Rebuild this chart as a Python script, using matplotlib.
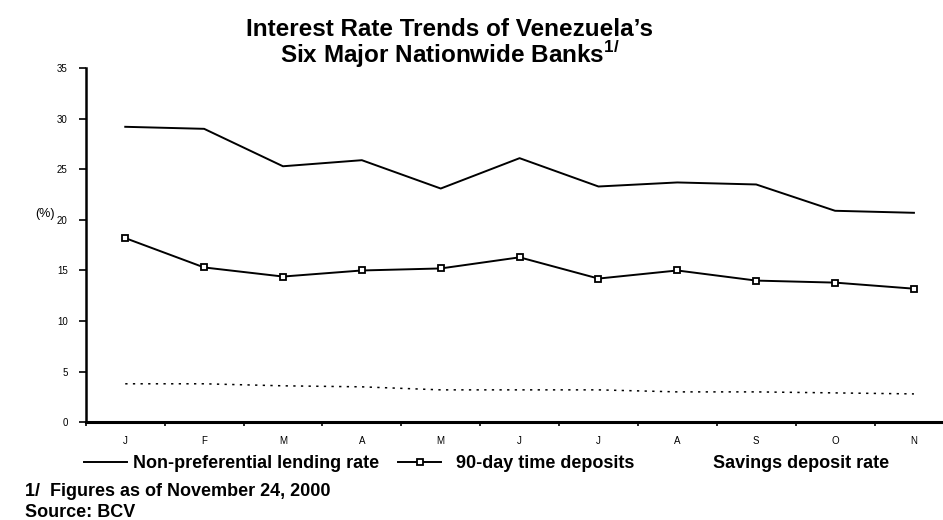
import matplotlib.pyplot as plt
from matplotlib.lines import Line2D

plt.rcParams['font.family'] = ['Liberation Sans', 'DejaVu Sans']

# Monthly rates, Jan-Nov 2000 (%)
months = ["J", "F", "M", "A", "M", "J", "J", "A", "S", "O", "N"]
lending_rate = [29.2, 29.0, 25.3, 25.9, 23.1, 26.1, 23.3, 23.7, 23.5, 20.9, 20.7]
time_deposits_90d = [18.2, 15.3, 14.4, 15.0, 15.2, 16.3, 14.2, 15.0, 14.0, 13.8, 13.2]
savings_rate = [3.8, 3.8, 3.6, 3.5, 3.2, 3.2, 3.2, 3.0, 3.0, 2.9, 2.8]
y_ticks = [0, 5, 10, 15, 20, 25, 30, 35]

fig = plt.figure(figsize=(9.43, 5.2), dpi=100)
ax = fig.add_axes([0.091, 0.188, 0.92, 0.681])

x = list(range(len(months)))
ax.plot(x, lending_rate, color="black", lw=1.4, label="Non-preferential lending rate")
ax.plot(x, time_deposits_90d, color="black", lw=1.4, marker="s", ms=5,
        mfc="white", mec="black", mew=1.3, label="90-day time deposits")
ax.plot(x, savings_rate, color="black", lw=1.1, ls=(0, (1.5, 3.5)),
        label="Savings deposit rate")

ax.set_xlim(-0.5, len(months) - 0.5)
ax.set_ylim(0, 35)
ax.set_yticks(y_ticks)
ax.set_yticklabels([str(v) for v in y_ticks], fontsize=7)
# boundary ticks between months, labels centred on each month
ax.set_xticks([i - 0.5 for i in range(len(months) + 1)])
ax.set_xticklabels([])
ax.set_xticks(x, minor=True)
ax.set_xticklabels(months, minor=True, fontsize=7)
ax.tick_params(axis="x", which="minor", length=0, pad=10)
ax.tick_params(axis="x", which="major", length=3, width=1.2, direction="out")
ax.tick_params(axis="y", length=5, width=1.2, direction="out", pad=8)

for side in ("top", "right"):
    ax.spines[side].set_visible(False)
ax.spines["left"].set_linewidth(1.8)
ax.spines["bottom"].set_linewidth(2.2)

fig.text(0.037, 0.588, "(%)", fontsize=9, ha="left", va="center")

fig.text(0.477, 0.944, "Interest Rate Trends of Venezuela\u2019s",
         fontsize=17.5, fontweight="bold", ha="center", va="center")
fig.text(0.477, 0.896, "Six Major Nationwide Banks$^{\\mathregular{1/}}$",
         fontsize=17.5, fontweight="bold", ha="center", va="center")

# one legend per entry so each can sit where it belongs along the row
legend_font = {"size": 13, "weight": "bold"}
common = dict(loc="center left", frameon=False, borderpad=0, borderaxespad=0,
              prop=legend_font)
fig.legend([Line2D([], [], color="black", lw=1.4)],
           ["Non-preferential lending rate"], bbox_to_anchor=(0.089, 0.108),
           handlelength=2.4, handletextpad=0.3, **common)
fig.legend([Line2D([], [], color="black", lw=1.4, marker="s", ms=5,
                   mfc="white", mec="black", mew=1.3)],
           ["90-day time deposits"], bbox_to_anchor=(0.422, 0.108),
           handlelength=2.4, handletextpad=0.8, **common)
fig.legend([Line2D([], [], color="white", lw=0)], ["Savings deposit rate"],
           bbox_to_anchor=(0.756, 0.108), handlelength=0, handletextpad=0,
           **common)

fig.text(0.027, 0.054, "1/  Figures as of November 24, 2000",
         fontsize=13, fontweight="bold", ha="left", va="center")
fig.text(0.027, 0.014, "Source: BCV",
         fontsize=13, fontweight="bold", ha="left", va="center")

fig.savefig("out.png", dpi=100)
